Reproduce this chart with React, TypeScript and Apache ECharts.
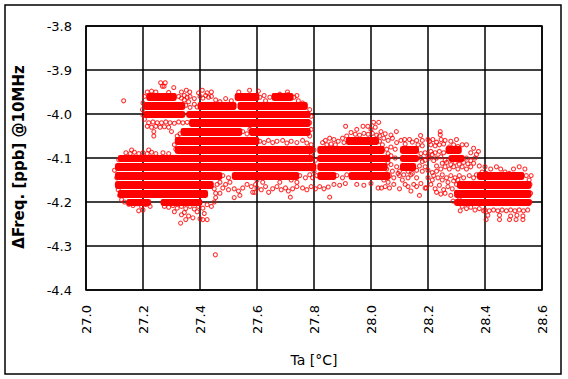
import React, { useEffect, useRef } from "react";
import * as echarts from "echarts";

// ---- axis settings ----
const taMin = 27.0;
const taMax = 28.6;
const taStep = 0.2;
const dfMin = -4.4;
const dfMax = -3.8;
const dfStep = 0.1;
const xTitle = "Ta [°C]";
const yTitle = "ΔFreq. [ppb] @10MHz";

// ---- dense (solid looking) runs of points: [Ta start, Ta end, ΔFreq level] ----
const denseRuns: number[][] = [
  [27.22, 27.31, -3.96], [27.53, 27.60, -3.96], [27.66, 27.72, -3.96],
  [27.21, 27.34, -3.98], [27.40, 27.52, -3.98], [27.54, 27.77, -3.98],
  [27.21, 27.34, -4.00], [27.36, 27.78, -4.00],
  [27.37, 27.78, -4.02],
  [27.34, 27.54, -4.04], [27.58, 27.78, -4.04],
  [27.32, 27.60, -4.06], [27.92, 28.02, -4.06],
  [27.32, 27.79, -4.08], [27.82, 28.04, -4.08], [28.11, 28.16, -4.08], [28.27, 28.31, -4.08],
  [27.12, 27.79, -4.10], [27.82, 28.06, -4.10], [28.11, 28.16, -4.10], [28.28, 28.32, -4.10],
  [27.11, 27.80, -4.12], [27.82, 28.05, -4.12], [28.11, 28.15, -4.12],
  [27.11, 27.47, -4.14], [27.52, 27.74, -4.14], [27.82, 27.87, -4.14], [27.93, 28.06, -4.14], [28.38, 28.53, -4.14],
  [27.11, 27.44, -4.16], [28.31, 28.555, -4.16],
  [27.12, 27.42, -4.18], [28.30, 28.555, -4.18],
  [27.15, 27.22, -4.20], [27.27, 27.40, -4.20], [28.30, 28.555, -4.20],
];

// ---- individual points [Ta, ΔFreq] ----
const upperPoints: number[][] = [
  [27.132, -3.970],
  [27.262, -3.929], [27.278, -3.929], [27.268, -3.937], [27.274, -3.937], [27.308, -3.940],
  [27.215, -3.950], [27.230, -3.948], [27.245, -3.950], [27.290, -3.951], [27.335, -3.950],
  [27.352, -3.946], [27.364, -3.950], [27.395, -3.952], [27.408, -3.946], [27.425, -3.952], [27.440, -3.950],
  [27.536, -3.950], [27.574, -3.946], [27.605, -3.948], [27.709, -3.956], [27.707, -3.950], [27.680, -3.955], [27.660, -3.958],
  [27.325, -3.960], [27.335, -3.964], [27.345, -3.958], [27.355, -3.962], [27.365, -3.960],
  [27.400, -3.960], [27.410, -3.964], [27.420, -3.958], [27.430, -3.962], [27.440, -3.960],
  [27.610, -3.962], [27.625, -3.958], [27.645, -3.962], [27.730, -3.962], [27.740, -3.958],
  [27.345, -3.968], [27.360, -3.972], [27.380, -3.965], [27.455, -3.968], [27.470, -3.972], [27.490, -3.965],
  [27.510, -3.970], [27.630, -3.970], [27.745, -3.970], [27.760, -3.975],
  [27.350, -3.980], [27.365, -3.985], [27.380, -3.978], [27.390, -3.984],
  [27.205, -3.960], [27.200, -3.975], [27.198, -3.990], [27.200, -4.002],
  [27.785, -3.990], [27.790, -4.005], [27.785, -4.020], [27.790, -4.035], [27.785, -4.050],
  [27.205, -4.012], [27.220, -4.020], [27.235, -4.018], [27.250, -4.020], [27.265, -4.020], [27.280, -4.018],
  [27.295, -4.020], [27.310, -4.021], [27.325, -4.018], [27.340, -4.020], [27.355, -4.019],
  [27.215, -4.028], [27.230, -4.030], [27.245, -4.028], [27.260, -4.030], [27.275, -4.029], [27.290, -4.030],
  [27.238, -4.040], [27.238, -4.050], [27.300, -4.040], [27.320, -4.050], [27.330, -4.045],
  [27.325, -4.060], [27.310, -4.070], [27.315, -4.080], [27.330, -4.085],
  [27.550, -4.040], [27.565, -4.045], [27.575, -4.035],
  [27.610, -4.062], [27.625, -4.065], [27.640, -4.060], [27.655, -4.065], [27.670, -4.062], [27.690, -4.060],
  [27.705, -4.066], [27.720, -4.062], [27.740, -4.065], [27.760, -4.060], [27.775, -4.066],
  [27.790, -4.070], [27.800, -4.082], [27.790, -4.095], [27.805, -4.105], [27.790, -4.118], [27.800, -4.130],
  [27.795, -4.145], [27.810, -4.140],
];

const lowerLeftPoints: number[][] = [
  [27.140, -4.088], [27.155, -4.090], [27.170, -4.087], [27.185, -4.090], [27.200, -4.088], [27.215, -4.090],
  [27.230, -4.087], [27.245, -4.090], [27.270, -4.088], [27.290, -4.090], [27.160, -4.082], [27.220, -4.082],
  [27.100, -4.128], [27.115, -4.104], [27.108, -4.145], [27.110, -4.160], [27.113, -4.172], [27.118, -4.185], [27.125, -4.195],
  [27.135, -4.200], [27.150, -4.205], [27.165, -4.208], [27.180, -4.204], [27.195, -4.210], [27.210, -4.206], [27.225, -4.210],
  [27.275, -4.210], [27.290, -4.212], [27.305, -4.208], [27.320, -4.214], [27.335, -4.210], [27.350, -4.215],
  [27.365, -4.210], [27.380, -4.216], [27.395, -4.210], [27.410, -4.214], [27.425, -4.206], [27.440, -4.210],
  [27.450, -4.200], [27.455, -4.190], [27.450, -4.170], [27.455, -4.180], [27.460, -4.160],
  [27.185, -4.220], [27.200, -4.218], [27.310, -4.222], [27.345, -4.224], [27.390, -4.222], [27.415, -4.226],
  [27.335, -4.229], [27.360, -4.232], [27.375, -4.236], [27.400, -4.238], [27.410, -4.240], [27.425, -4.240],
  [27.350, -4.240], [27.332, -4.248], [27.454, -4.320],
];

const middlePoints: number[][] = [
  [27.480, -4.140], [27.500, -4.145], [27.750, -4.140], [27.770, -4.145], [27.785, -4.138],
  [27.880, -4.140], [27.900, -4.145], [27.915, -4.138],
  [27.470, -4.155], [27.490, -4.160], [27.505, -4.155], [27.480, -4.168], [27.500, -4.172], [27.520, -4.170],
  [27.535, -4.175], [27.550, -4.168], [27.565, -4.160], [27.580, -4.165], [27.595, -4.160], [27.540, -4.185],
  [27.585, -4.178], [27.520, -4.190], [27.470, -4.180],
  [27.600, -4.168], [27.615, -4.172], [27.630, -4.165], [27.641, -4.178], [27.655, -4.170], [27.670, -4.165],
  [27.685, -4.172], [27.700, -4.168], [27.710, -4.175], [27.725, -4.170], [27.740, -4.165], [27.760, -4.168],
  [27.775, -4.172], [27.790, -4.165], [27.805, -4.170], [27.820, -4.165], [27.835, -4.170], [27.850, -4.166],
  [27.870, -4.160], [27.890, -4.162], [27.910, -4.158], [27.950, -4.160], [27.975, -4.162], [28.000, -4.158],
  [28.025, -4.168], [28.037, -4.168], [28.050, -4.165], [28.065, -4.168], [28.080, -4.160],
  [27.717, -4.189], [27.855, -4.189], [27.592, -4.178], [27.740, -4.155], [27.620, -4.155], [27.680, -4.155],
  [27.600, -4.150], [27.720, -4.150],
  [27.911, -4.028], [27.972, -4.028], [27.989, -4.028], [28.009, -4.019], [28.027, -4.019], [28.089, -4.040],
  [27.950, -4.035], [28.000, -4.035], [28.015, -4.030],
  [27.930, -4.042], [27.945, -4.046], [27.960, -4.048], [27.975, -4.044], [27.990, -4.046], [28.005, -4.044],
  [28.020, -4.048], [28.035, -4.040], [28.050, -4.045], [28.070, -4.048],
  [27.840, -4.060], [27.855, -4.055], [27.870, -4.058], [27.885, -4.062], [27.900, -4.055], [27.915, -4.050],
  [27.830, -4.065], [27.845, -4.070], [27.860, -4.068], [27.875, -4.070], [27.905, -4.065], [28.030, -4.062],
  [28.030, -4.050], [28.045, -4.055], [28.060, -4.060], [28.075, -4.055], [28.090, -4.065], [28.105, -4.060],
  [28.070, -4.075], [28.085, -4.080], [28.070, -4.095], [28.085, -4.100], [28.070, -4.115], [28.090, -4.120],
  [28.075, -4.130], [28.095, -4.135], [28.080, -4.145], [28.110, -4.150], [28.130, -4.145],
  [28.040, -4.070], [28.055, -4.080], [28.060, -4.090], [28.050, -4.100], [28.060, -4.110], [28.055, -4.125],
  [28.065, -4.140], [28.045, -4.150], [28.060, -4.155],
];

const rightPoints: number[][] = [
  [28.243, -4.040], [28.243, -4.047], [28.174, -4.049], [28.118, -4.058], [28.135, -4.058], [28.200, -4.058],
  [28.217, -4.058], [28.246, -4.058], [28.120, -4.068], [28.145, -4.064], [28.160, -4.060], [28.180, -4.060],
  [28.165, -4.070], [28.180, -4.072], [28.210, -4.070], [28.225, -4.072], [28.240, -4.070], [28.255, -4.068], [28.335, -4.070],
  [28.205, -4.062], [28.230, -4.064], [28.260, -4.060], [28.275, -4.075], [28.290, -4.070], [28.305, -4.074],
  [28.320, -4.070], [28.280, -4.062], [28.300, -4.058], [28.360, -4.078], [28.370, -4.092],
  [28.190, -4.088], [28.210, -4.085], [28.225, -4.088], [28.240, -4.085], [28.255, -4.088], [28.350, -4.088], [28.377, -4.085],
  [28.175, -4.090], [28.180, -4.108], [28.200, -4.095], [28.215, -4.092], [28.230, -4.100], [28.245, -4.097], [28.260, -4.105],
  [28.175, -4.100], [28.190, -4.105], [28.205, -4.100], [28.220, -4.106], [28.335, -4.100], [28.350, -4.106], [28.365, -4.100],
  [28.250, -4.112], [28.265, -4.110], [28.280, -4.115], [28.295, -4.110], [28.310, -4.114], [28.325, -4.110],
  [28.340, -4.113], [28.360, -4.112], [28.380, -4.118], [28.400, -4.120],
  [28.170, -4.118], [28.190, -4.120], [28.230, -4.118], [28.245, -4.125], [28.260, -4.120], [28.275, -4.125],
  [28.290, -4.120], [28.305, -4.125], [28.320, -4.120], [28.335, -4.125], [28.350, -4.120], [28.420, -4.125],
  [28.440, -4.120], [28.455, -4.125], [28.500, -4.125], [28.520, -4.120], [28.540, -4.125],
  [28.100, -4.130], [28.115, -4.138], [28.130, -4.130], [28.145, -4.135], [28.160, -4.128],
  [28.180, -4.130], [28.200, -4.128], [28.215, -4.133], [28.230, -4.130],
  [28.100, -4.140], [28.140, -4.138], [28.160, -4.145], [28.220, -4.140], [28.235, -4.145], [28.250, -4.138],
  [28.265, -4.145], [28.280, -4.140], [28.295, -4.145], [28.310, -4.140], [28.325, -4.145], [28.345, -4.140],
  [28.360, -4.145], [28.545, -4.140], [28.555, -4.150],
  [28.250, -4.150], [28.270, -4.155], [28.290, -4.152], [28.305, -4.150], [28.215, -4.150], [28.200, -4.145],
  [28.160, -4.165], [28.175, -4.158], [28.190, -4.168], [28.210, -4.160], [28.225, -4.170], [28.240, -4.162],
  [28.255, -4.172], [28.270, -4.165], [28.285, -4.170], [28.300, -4.160], [28.194, -4.168], [28.140, -4.175],
  [28.100, -4.170], [28.120, -4.160], [28.150, -4.160], [28.130, -4.165],
  [28.230, -4.178], [28.245, -4.182], [28.260, -4.180], [28.280, -4.185], [28.300, -4.178], [28.170, -4.185],
  [28.288, -4.198], [28.310, -4.195], [28.313, -4.220], [28.320, -4.210], [28.335, -4.215], [28.350, -4.212],
  [28.365, -4.218], [28.380, -4.215], [28.395, -4.220],
  [28.400, -4.218], [28.415, -4.220], [28.430, -4.218], [28.445, -4.220], [28.460, -4.218], [28.475, -4.220],
  [28.490, -4.218], [28.505, -4.220], [28.520, -4.218], [28.535, -4.220], [28.550, -4.218],
  [28.410, -4.230], [28.451, -4.230], [28.490, -4.232], [28.512, -4.230], [28.533, -4.232],
  [28.404, -4.240], [28.451, -4.240], [28.486, -4.240], [28.509, -4.240], [28.533, -4.240],
  [28.558, -4.160], [28.560, -4.180], [28.558, -4.200], [28.562, -4.140],
  [28.390, -4.132], [28.405, -4.135], [28.470, -4.132], [28.485, -4.135], [28.370, -4.138],
];

const RED = "#ff0000";
const BAND_HALF = 0.01;

export default function App() {
  const ref = useRef<HTMLDivElement>(null);

  useEffect(() => {
    if (!ref.current) return;
    const chart = echarts.init(ref.current, undefined, { renderer: "svg" });
    const points = [...upperPoints, ...lowerLeftPoints, ...middlePoints, ...rightPoints];
    const font = "DejaVu Sans";

    chart.setOption({
      animation: false,
      backgroundColor: "#ffffff",
      grid: {
        left: 86,
        right: 26,
        top: 26,
        bottom: 89,
        show: true,
        borderColor: "#000",
        borderWidth: 1.5,
        backgroundColor: "transparent",
      },
      xAxis: {
        type: "value",
        min: taMin,
        max: taMax,
        interval: taStep,
        axisLine: { show: false },
        axisTick: { show: false },
        splitLine: { show: true, lineStyle: { color: "#000", width: 1.5 } },
        axisLabel: {
          rotate: 90,
          margin: 15,
          color: "#000",
          fontFamily: font,
          fontSize: 13,
          formatter: (v: number) => v.toFixed(1),
        },
      },
      yAxis: {
        type: "value",
        min: dfMin,
        max: dfMax,
        interval: dfStep,
        axisLine: { show: false },
        axisTick: { show: false },
        splitLine: { show: true, lineStyle: { color: "#000", width: 1.5 } },
        axisLabel: {
          margin: 14,
          color: "#000",
          fontFamily: font,
          fontSize: 13,
          formatter: (v: number) => v.toFixed(1),
        },
      },
      graphic: [
        {
          type: "rect",
          shape: { x: 5, y: 5, width: 556, height: 369 },
          style: { fill: "none", stroke: "#000", lineWidth: 1.5 },
          silent: true,
        },
        {
          type: "text",
          x: 19,
          y: 157,
          rotation: Math.PI / 2,
          style: {
            text: yTitle,
            fill: "#000",
            font: `bold 15px "${font}"`,
            textAlign: "center",
            textVerticalAlign: "middle",
          },
          silent: true,
        },
        {
          type: "text",
          x: 314,
          y: 360,
          style: {
            text: xTitle,
            fill: "#000",
            font: `14px "${font}"`,
            textAlign: "center",
            textVerticalAlign: "middle",
          },
          silent: true,
        },
      ],
      series: [
        {
          type: "custom",
          silent: true,
          clip: true,
          encode: { x: [0, 1], y: 2 },
          data: denseRuns,
          renderItem: (params: any, api: any) => {
            const x0 = api.value(0);
            const x1 = api.value(1);
            const y = api.value(2);
            const a = api.coord([x0, y + BAND_HALF]);
            const b = api.coord([x1, y - BAND_HALF]);
            const top = Math.round(a[1]) + 1;
            const bottom = Math.round(b[1]);
            return {
              type: "rect",
              shape: {
                x: a[0] - 2.4,
                y: top,
                width: b[0] - a[0] + 4.8,
                height: bottom - top,
                r: 2.4,
              },
              style: { fill: RED },
            };
          },
        },
        {
          type: "scatter",
          silent: true,
          symbol: "circle",
          symbolSize: 4,
          itemStyle: { color: "rgba(0,0,0,0)", borderColor: RED, borderWidth: 1.1 },
          data: points,
        },
      ],
    });

    return () => chart.dispose();
  }, []);

  return (
    <div
      ref={ref}
      style={{ position: "absolute", left: 0, top: 0, width: 568, height: 379 }}
    />
  );
}
